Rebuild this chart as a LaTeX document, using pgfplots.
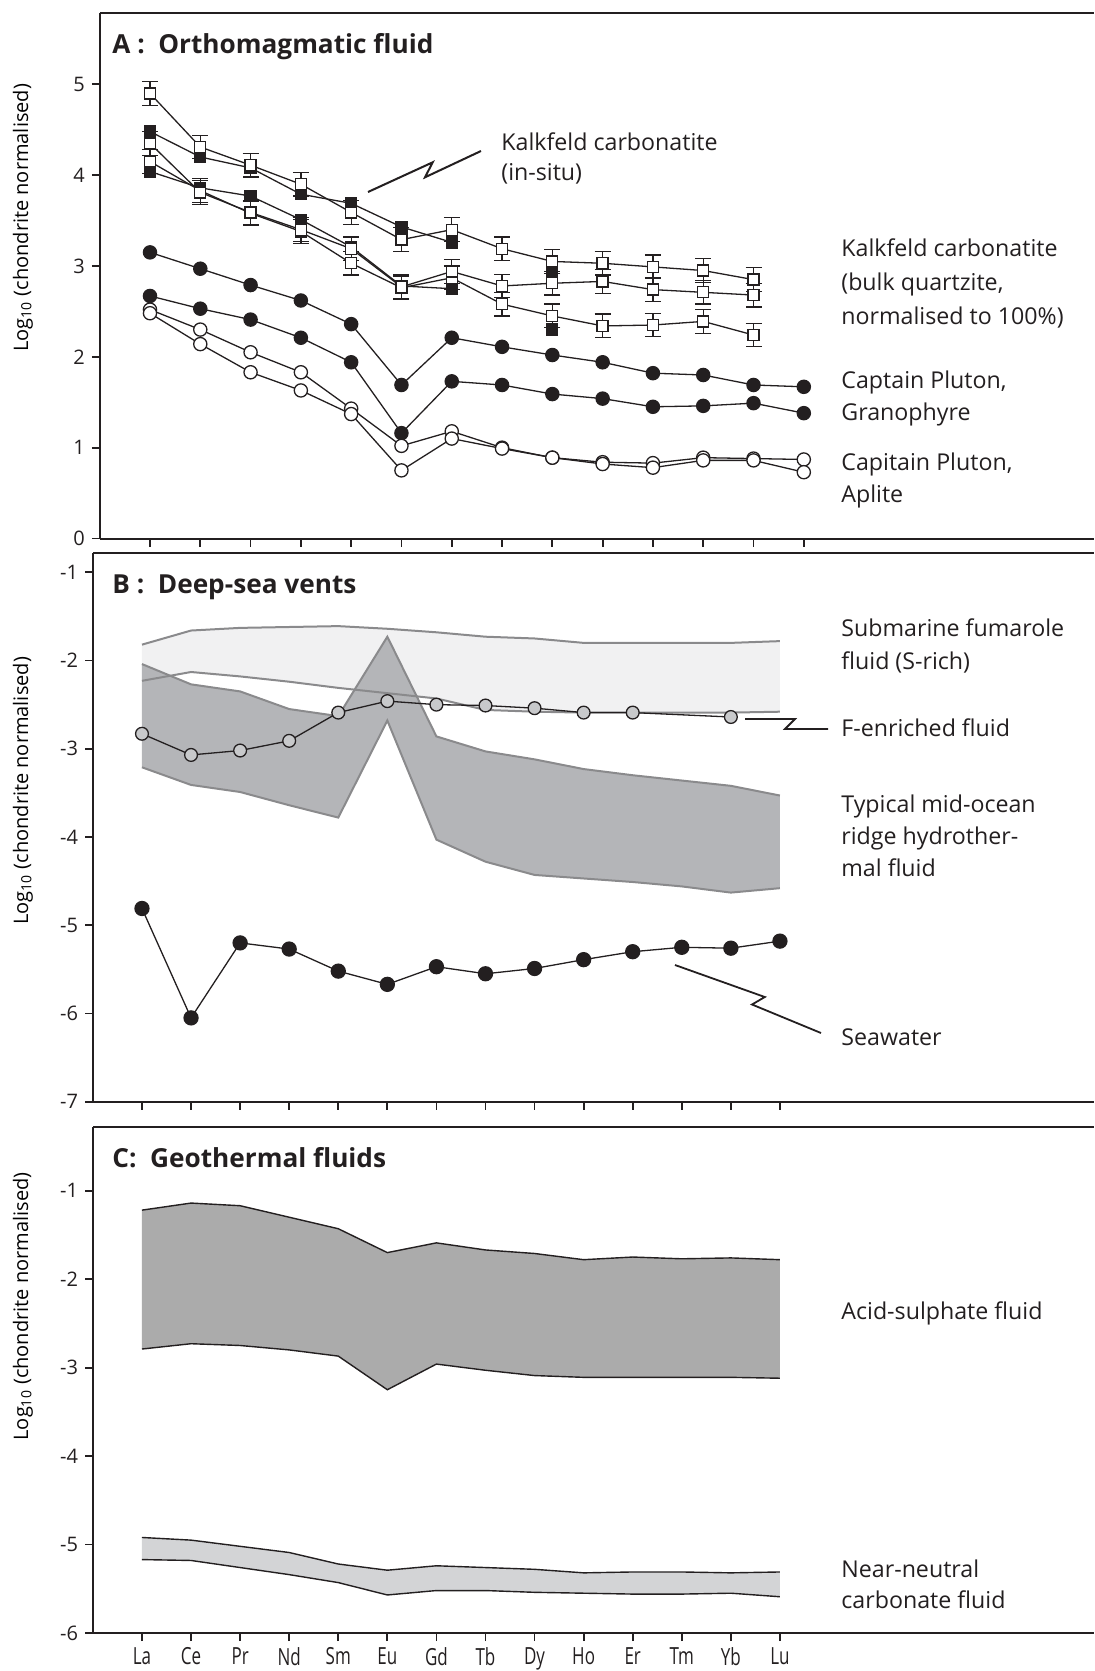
\documentclass[border=0pt]{standalone}
\usepackage{fontspec}
\setmainfont{Open Sans}
\usepackage{pgfplots}
\usepackage{pgfplotstable}
\pgfplotsset{compat=1.18}
\usepgfplotslibrary{fillbetween}

\definecolor{ink}{HTML}{231F20}
\definecolor{fumfill}{HTML}{F1F1F2}
\definecolor{morfill}{HTML}{B4B5B8}
\definecolor{edge}{HTML}{8A8A8C}
\definecolor{acidfill}{HTML}{ABABAB}
\definecolor{nearfill}{HTML}{D3D4D6}
\definecolor{fenr}{HTML}{C8C9CB}

\newcommand\lab{\fontsize{11.6}{14}\selectfont}
\newcommand\ttl{\fontsize{13.1}{16}\selectfont\bfseries}
\newcommand\ylab{Log\textsubscript{10} (chondrite normalised)}
\newcommand\sq[1]{\scalebox{0.72}[1]{#1}}

% ---------- Panel A ----------
\pgfplotstableread{
x o1 o2 o3
0 4.90 4.35 4.15
1 4.31 3.81 3.83
2 4.11 3.59 3.58
3 3.90 3.40 3.38
4 3.59 3.19 3.03
5 3.29 2.77 2.76
6 3.40 2.94 2.87
7 3.19 2.78 2.58
8 3.05 2.81 2.45
9 3.03 2.83 2.34
10 2.99 2.74 2.35
11 2.95 2.71 2.39
12 2.85 2.68 2.24
}\kalkO
\pgfplotstableread{
x f1 f2
0 4.48 4.04
1 4.20 3.86
2 4.08 3.77
3 3.79 3.51
4 3.69 3.21
5 3.43 2.78
6 3.26 2.75
}\kalkF
\pgfplotstableread{
x y
8 2.94
8 2.30
}\kalkFx
\pgfplotstableread{
x c1 c2 oa ob
0 3.15 2.67 2.52 2.48
1 2.97 2.53 2.30 2.14
2 2.79 2.41 2.05 1.83
3 2.62 2.21 1.83 1.63
4 2.36 1.94 1.43 1.37
5 1.69 1.16 1.02 0.75
6 2.21 1.73 1.18 1.10
7 2.11 1.69 1.00 0.99
8 2.02 1.59 0.89 0.89
9 1.94 1.54 0.84 0.82
10 1.82 1.45 0.83 0.78
11 1.80 1.46 0.89 0.86
12 1.69 1.49 0.88 0.86
13 1.67 1.38 0.87 0.73
}\circA

% ---------- Panel B ----------
\pgfplotstableread{
x fu fl mu ml sw
0 -1.82 -2.23 -2.04 -3.21 -4.81
1 -1.66 -2.13 -2.27 -3.41 -6.05
2 -1.63 -2.18 -2.35 -3.49 -5.20
3 -1.62 -2.24 -2.55 -3.64 -5.27
4 -1.61 -2.31 -2.63 -3.78 -5.52
5 -1.64 -2.37 -1.73 -2.68 -5.67
6 -1.68 -2.43 -2.86 -4.03 -5.47
7 -1.73 -2.56 -3.03 -4.28 -5.55
8 -1.75 -2.58 -3.12 -4.43 -5.49
9 -1.80 -2.59 -3.23 -4.47 -5.39
10 -1.80 -2.59 -3.30 -4.51 -5.30
11 -1.80 -2.59 -3.36 -4.56 -5.25
12 -1.80 -2.59 -3.42 -4.63 -5.26
13 -1.78 -2.58 -3.53 -4.58 -5.18
}\tabB
\pgfplotstableread{
x y
0 -2.83
1 -3.07
2 -3.02
3 -2.91
4 -2.59
5 -2.46
6 -2.50
7 -2.51
8 -2.54
9 -2.59
10 -2.59
12 -2.64
}\fenrich

% ---------- Panel C ----------
\pgfplotstableread{
x au al nu nl
0 -1.22 -2.79 -4.92 -5.17
1 -1.14 -2.73 -4.95 -5.18
2 -1.17 -2.75 -5.02 -5.26
3 -1.30 -2.80 -5.09 -5.34
4 -1.43 -2.87 -5.22 -5.43
5 -1.70 -3.25 -5.29 -5.57
6 -1.59 -2.96 -5.24 -5.52
7 -1.67 -3.03 -5.26 -5.52
8 -1.71 -3.09 -5.28 -5.54
9 -1.78 -3.11 -5.32 -5.55
10 -1.75 -3.11 -5.31 -5.56
11 -1.77 -3.11 -5.31 -5.56
12 -1.76 -3.11 -5.32 -5.55
13 -1.78 -3.12 -5.31 -5.59
}\tabC

\pgfplotsset{
  panel/.style={
    scale only axis,
    axis x line*=box, axis y line*=left,
    xtick pos=left, ytick pos=left,
    tick align=outside, major tick length=4pt,
    axis line style={line width=1pt, ink},
    major tick style={line width=0.9pt, ink},
    /pgf/number format/assume math mode=true,
    yticklabel style={font=\fontsize{10}{12}\selectfont, ink},
    xtick={0,...,13},
    ylabel=\ylab,
    ylabel style={font=\fontsize{9.6}{12}\selectfont, ink},
  },
  dl/.style={ink, line width=0.65pt},
  osq/.style={dl, mark=square*, mark size=2.75pt, mark options={fill=white, draw=ink, line width=0.65pt, solid},
    error bars/.cd, y dir=both, y fixed=0.13,
    error bar style={line width=0.65pt, ink},
    error mark options={line width=0.65pt, ink, mark size=4pt, rotate=90}},
  fsq/.style={dl, mark=square*, mark size=2.75pt, mark options={fill=ink, draw=ink, solid}},
  fci/.style={dl, mark=*, mark size=3.3pt, mark options={fill=ink, draw=ink, solid}},
  oci/.style={dl, mark=*, mark size=3.3pt, mark options={fill=white, draw=ink, line width=0.65pt, solid}},
}

\begin{document}
\begin{tikzpicture}

% ===== Panel A =====
\begin{axis}[panel, at={(50pt,-6.5pt)}, anchor=north west,
  width=497pt, height=262.75pt,
  xmin=-0.994, xmax=18.77, ymin=0, ymax=5.785,
  ytick={0,...,5}, xticklabels=\empty,
  every axis y label/.style={at={(axis description cs:-0.0775,0.61)}, rotate=90, anchor=center}]
  \addplot[fci] table[x=x,y=c1]{\circA};
  \addplot[fci] table[x=x,y=c2]{\circA};
  \addplot[oci] table[x=x,y=oa]{\circA};
  \addplot[oci] table[x=x,y=ob]{\circA};
  \addplot[fsq] table[x=x,y=f1]{\kalkF};
  \addplot[fsq] table[x=x,y=f2]{\kalkF};
  \addplot[fsq, only marks] table[x=x,y=y]{\kalkFx};
  \addplot[osq] table[x=x,y=o3]{\kalkO};
  \addplot[osq] table[x=x,y=o2]{\kalkO};
  \addplot[osq] table[x=x,y=o1]{\kalkO};
\end{axis}

% ===== Panel B =====
\begin{axis}[panel, at={(46.5pt,-276.35pt)}, anchor=north west,
  width=500.5pt, height=274.5pt,
  xmin=-0.998, xmax=19.40, ymin=-7, ymax=-0.778,
  ytick={-7,...,-1}, xticklabels=\empty,
  every axis y label/.style={at={(axis description cs:-0.070,0.566)}, rotate=90, anchor=center}]
  \addplot[name path=fu, draw=none, forget plot] table[x=x,y=fu]{\tabB};
  \addplot[name path=fl, draw=none, forget plot] table[x=x,y=fl]{\tabB};
  \addplot[fumfill, draw=none] fill between[of=fu and fl];
  \addplot[name path=mu, draw=none, forget plot] table[x=x,y=mu]{\tabB};
  \addplot[name path=ml, draw=none, forget plot] table[x=x,y=ml]{\tabB};
  \addplot[morfill, draw=none] fill between[of=mu and ml];
  \addplot[edge, line width=1pt] table[x=x,y=mu]{\tabB};
  \addplot[edge, line width=1pt] table[x=x,y=ml]{\tabB};
  \addplot[edge, line width=1pt] table[x=x,y=fu]{\tabB};
  \addplot[edge, line width=1pt] table[x=x,y=fl]{\tabB};
  \addplot[dl, mark=*, mark size=3.2pt, mark options={fill=fenr, draw=ink, line width=0.65pt}] table[x=x,y=y]{\fenrich};
  \addplot[fci, mark size=3.5pt] table[x=x,y=sw]{\tabB};
\end{axis}

% ===== Panel C =====
\begin{axis}[panel, at={(46.5pt,-563.35pt)}, anchor=north west,
  width=500.5pt, height=253.15pt,
  xmin=-0.998, xmax=19.40, ymin=-6, ymax=-0.277,
  ytick={-6,...,-1},
  xticklabels={\sq{La},\sq{Ce},\sq{Pr},\sq{Nd},\sq{Sm},\sq{Eu},\sq{Gd},\sq{Tb},\sq{Dy},\sq{Ho},\sq{Er},\sq{Tm},\sq{Yb},\sq{Lu}},
  xticklabel style={font=\fontsize{11.8}{12}\selectfont, ink, inner sep=1.2pt, yshift=-2pt},
  every axis y label/.style={at={(axis description cs:-0.070,0.645)}, rotate=90, anchor=center}]
  \addplot[name path=au, draw=none, forget plot] table[x=x,y=au]{\tabC};
  \addplot[name path=al, draw=none, forget plot] table[x=x,y=al]{\tabC};
  \addplot[acidfill, draw=none] fill between[of=au and al];
  \addplot[name path=nu, draw=none, forget plot] table[x=x,y=nu]{\tabC};
  \addplot[name path=nl, draw=none, forget plot] table[x=x,y=nl]{\tabC};
  \addplot[nearfill, draw=none] fill between[of=nu and nl];
  \addplot[ink, line width=0.7pt] table[x=x,y=au]{\tabC};
  \addplot[ink, line width=0.7pt] table[x=x,y=al]{\tabC};
  \addplot[ink, line width=0.7pt] table[x=x,y=nu]{\tabC};
  \addplot[ink, line width=0.7pt] table[x=x,y=nl]{\tabC};
\end{axis}

% ===== annotations (pixel coordinates) =====
\begin{scope}[x=0.5pt, y=-0.5pt, every node/.style={text=ink, font=\lab, inner sep=0pt, anchor=base west}]
  \node[font=\ttl] at (112,53) {A :\ \ Orthomagmatic fluid};
  \node[font=\ttl] at (112,593) {B :\ \ Deep-sea vents};
  \node[font=\ttl] at (112,1167) {C:\ \ Geothermal fluids};

  \node at (501,150.7) {Kalkfeld carbonatite};
  \node at (501,180) {(in-situ)};
  \draw[ink, line width=1pt] (368,192) -- (432.7,162.3) -- (425,177.3) -- (481,151);

  \node at (841,256) {Kalkfeld carbonatite};
  \node at (841,290) {(bulk quartzite,};
  \node at (841,324) {normalised to 100\%)};
  \node at (841,388) {Captain Pluton,};
  \node at (841,420) {Granophyre};
  \node at (841,470) {Capitain Pluton,};
  \node at (841,502) {Aplite};

  \node at (841,636.5) {Submarine fumarole};
  \node at (841,669.5) {fluid (S-rich)};
  \node at (841,736.6) {F-enriched fluid};
  \draw[ink, line width=0.9pt] (745,719) -- (795,719) -- (785,729) -- (828,729);
  \node at (841,812) {Typical mid-ocean};
  \node at (841,844) {ridge hydrother-};
  \node at (841,876) {mal fluid};
  \node at (841,1045.5) {Seawater};
  \draw[ink, line width=0.9pt] (675,965) -- (764.8,997) -- (752,1004.5) -- (821,1033);

  \node at (841,1319) {Acid-sulphate fluid};
  \node at (841,1577) {Near-neutral};
  \node at (841,1608) {carbonate fluid};
\end{scope}
\pgfresetboundingbox
\path[use as bounding box] (0,0) rectangle (547pt,-835.5pt);
\end{tikzpicture}
\end{document}
